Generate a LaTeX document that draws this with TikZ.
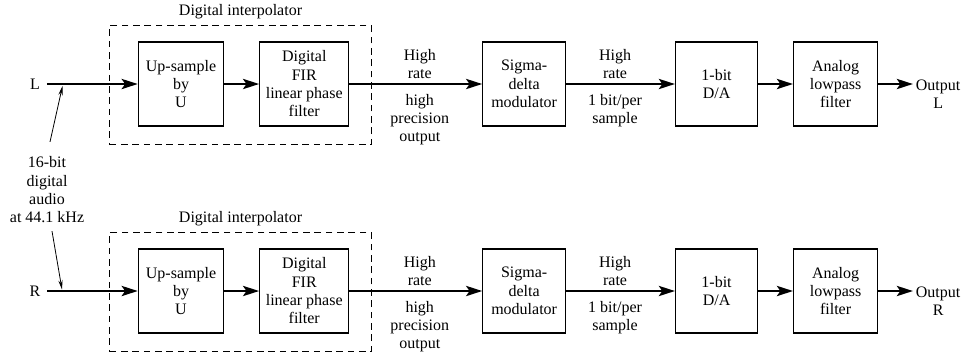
\documentclass[tikz,border=0pt]{standalone}
\usepackage{fontspec}
\setmainfont{Liberation Serif}
\usetikzlibrary{arrows.meta,positioning,fit}

\begin{document}
\begin{tikzpicture}[
  x=0.75pt, y=-0.75pt,
  font=\fontsize{12}{13.75}\selectfont,
  blk/.style={draw, line width=0.8pt, align=center, minimum width=64pt, minimum height=63pt, inner sep=2pt},
  interp/.style={draw, line width=0.7pt, dash pattern=on 5pt off 3.5pt, inner sep=0pt},
  lbl/.style={align=center, inner sep=2pt},
  sig/.style={-{Stealth[length=12pt,width=7.5pt,inset=2.5pt]}, line width=2.2pt},
  note/.style={-{Stealth[length=7pt,width=3.2pt]}, line width=0.6pt}
]
\useasboundingbox (0,0) rectangle (971,355);
\foreach \ch/\yy in {L/84,R/291} {
  \node[blk] (up\ch) at (181,\yy) {Up-sample\\by\\U};
  \node[blk, right=26.25pt of up\ch, minimum width=66.75pt] (fir\ch) {Digital\\FIR\\linear phase\\filter};
  \node[blk, right=99.75pt of fir\ch, minimum width=62pt] (sdm\ch) {Sigma-\\delta\\modulator};
  \node[blk, right=81.75pt of sdm\ch, minimum width=61.5pt] (da\ch) {1-bit\\D/A};
  \node[blk, right=26.25pt of da\ch, minimum width=63pt] (lpf\ch) {Analog\\lowpass\\filter};
  \node[lbl, inner xsep=5pt] (in\ch) at (35,\yy) {\ch};
  \node[lbl, anchor=west] (out\ch) at (913,\yy+10) {Output\\\ch};
  % dashed interpolator frame
  \coordinate (a\ch) at ([shift={(-28,-16)}]up\ch.north west);
  \coordinate (b\ch) at ([shift={(22,18)}]fir\ch.south east);
  \node[interp, fit=(a\ch)(b\ch), label={[lbl, label distance=2pt]above:Digital interpolator}] (dig\ch) {};
  \draw[sig] (in\ch) -- (up\ch);
  \draw[sig] (up\ch) -- (fir\ch);
  \draw[sig] (fir\ch) -- node[lbl, above, pos=0.53, yshift=0.8pt] {High\\rate}
    node[lbl, below, pos=0.53, yshift=-4.5pt] {high\\precision\\output} (sdm\ch);
  \draw[sig] (sdm\ch) -- node[lbl, above, pos=0.45, yshift=0.8pt] {High\\rate}
    node[lbl, below, pos=0.45, yshift=-4.5pt] {1 bit/per\\sample} (da\ch);
  \draw[sig] (da\ch) -- (lpf\ch);
  \draw[sig] (lpf\ch) -- (lpf\ch -| out\ch.west);
}
\node[lbl] (audio) at (47,190) {16-bit\\digital\\audio\\at 44.1 kHz};
\coordinate (tapL) at (62.5,86);
\coordinate (tapR) at (62,289.5);
\draw[note] ([shift={(3,-12)}]audio.north) -- (tapL);
\draw[note] ([shift={(5,5)}]audio.south) -- (tapR);
\end{tikzpicture}
\end{document}
